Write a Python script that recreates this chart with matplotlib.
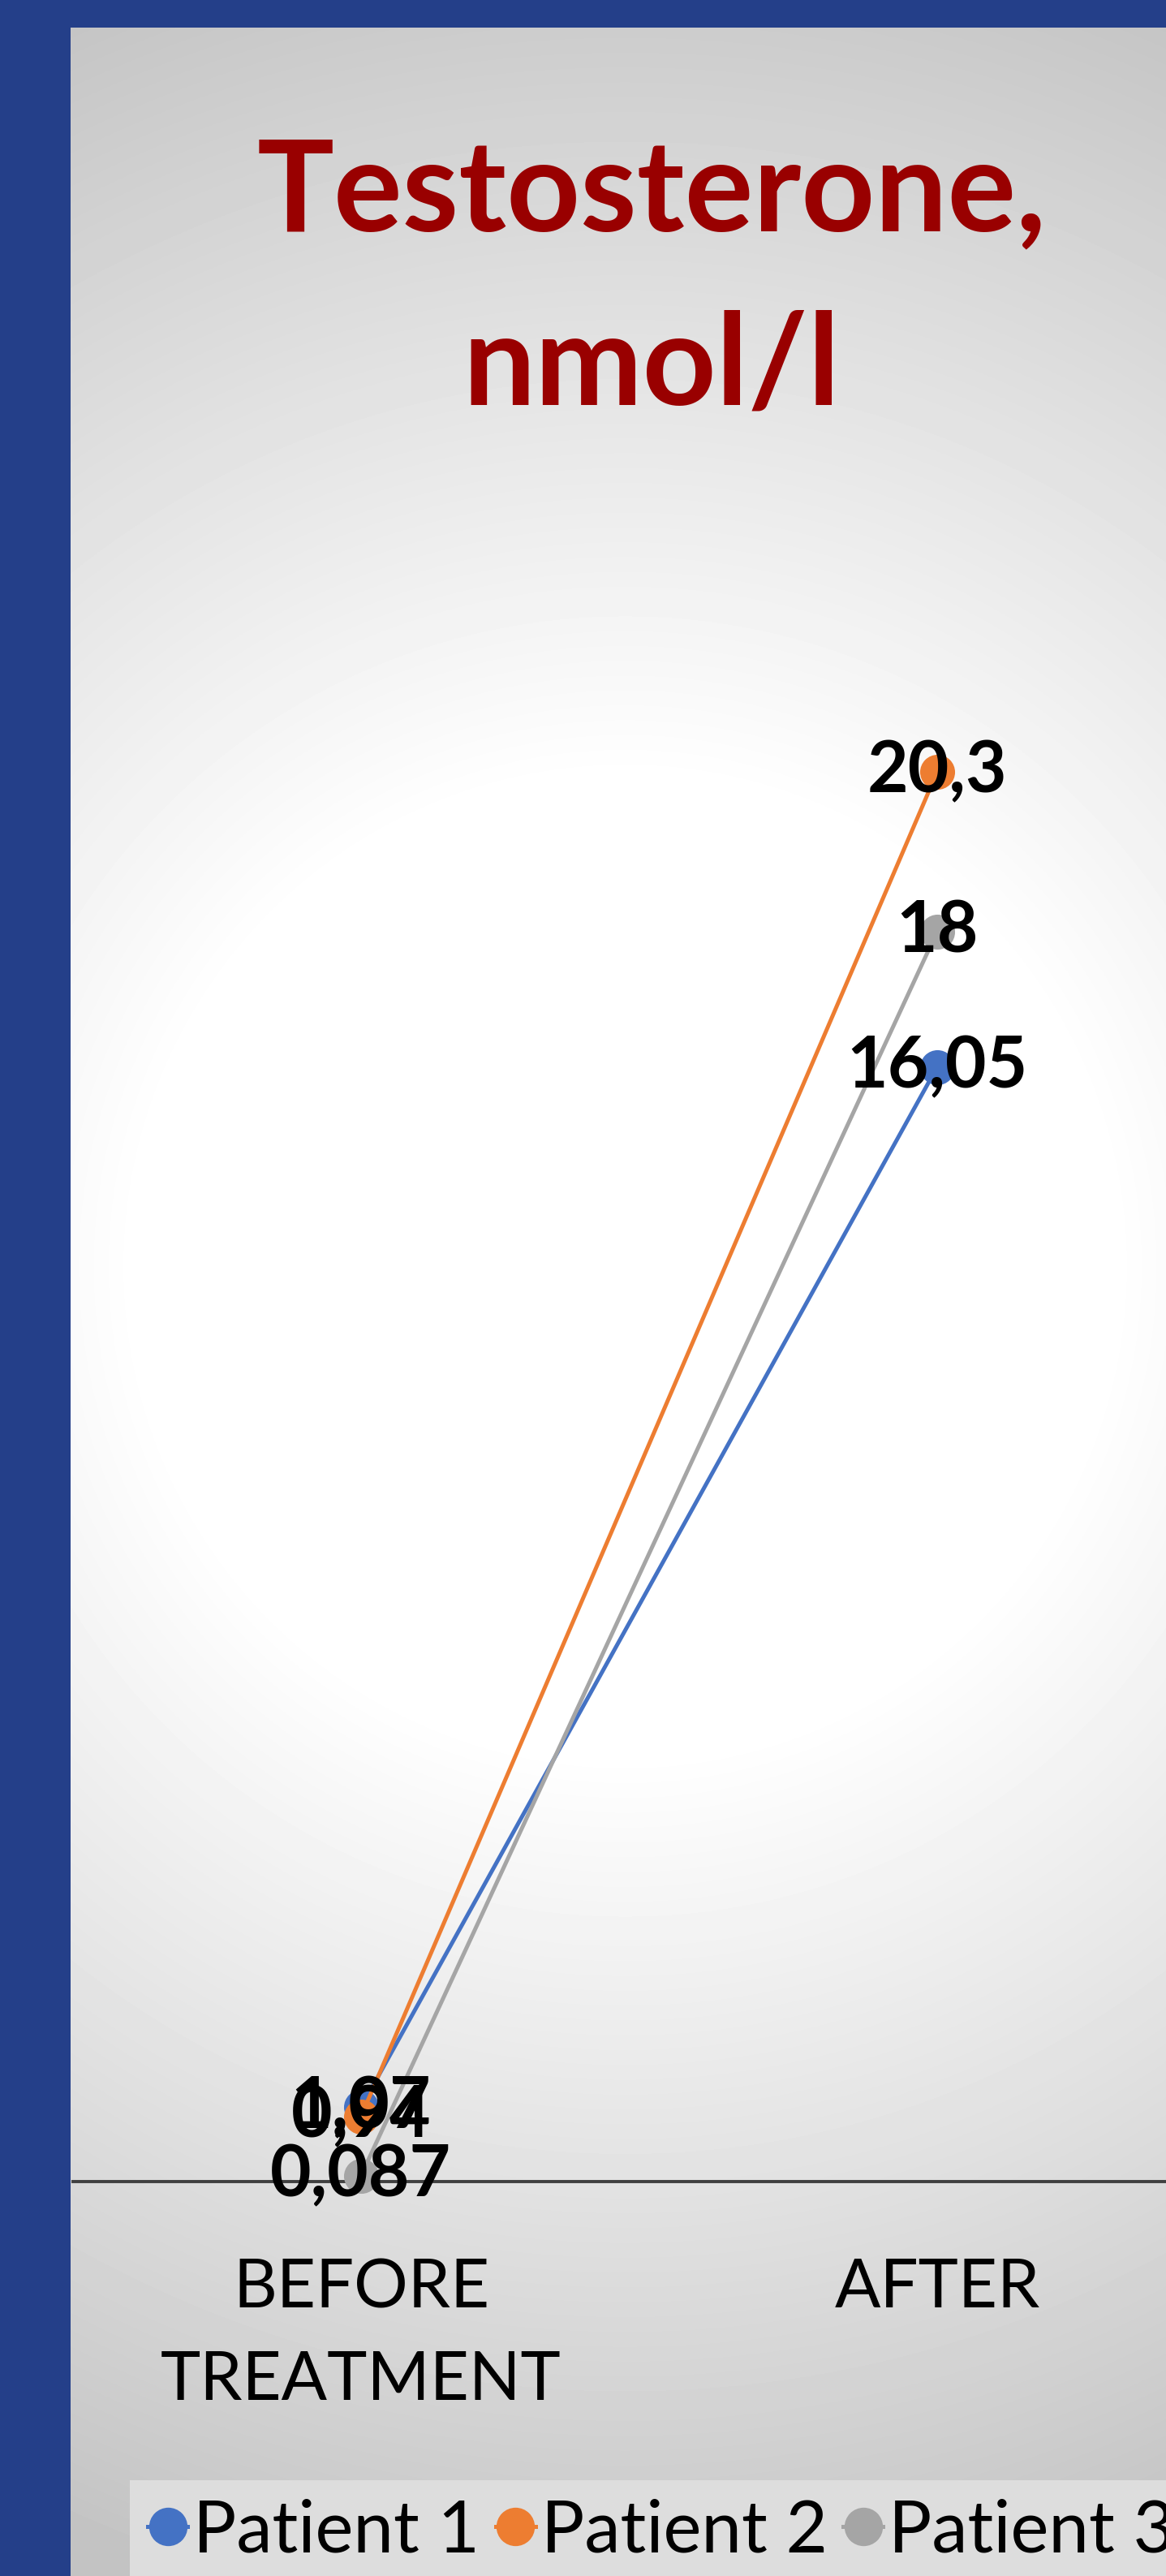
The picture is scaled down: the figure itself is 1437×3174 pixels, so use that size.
import numpy as np
import matplotlib
matplotlib.use('Agg')
import matplotlib.pyplot as plt

# chart data
categories = ['BEFORE\nTREATMENT', 'AFTER']
patient1 = [1.07, 16.05]
patient2 = [0.94, 20.3]
patient3 = [0.087, 18]
series_names = ['Patient 1', 'Patient 2', 'Patient 3']
series_colors = ['#4472C4', '#ED7D31', '#A5A5A5']

W, H = 1437, 3174
plt.rcParams['font.family'] = ['Lato', 'DejaVu Sans']

def fx(px):
    return px / W

def fy(py):
    return 1 - py / H

fig = plt.figure(figsize=(W / 100, H / 100), dpi=100, facecolor='#243F89')

# gray-to-white radial background of the slide panel
left_px, top_px = 87, 34
bg = fig.add_axes([fx(left_px), 0, fx(W - left_px), (H - top_px) / H], zorder=0)
xs = np.arange(left_px, W)
ys = np.arange(top_px, H)
XX, YY = np.meshgrid(xs, ys)
r = np.sqrt((XX - 770) ** 2 + (YY - 1560) ** 2)
shade = np.clip(255 - (r - 600) * 0.0545, 195, 255) / 255
bg.imshow(shade, cmap='gray', vmin=0, vmax=1, aspect='auto', interpolation='bilinear')
bg.axis('off')

# main chart axes (extends past the right edge, like the cropped original)
y0_px, ymax = 2688, 25
px_per_unit = (2688 - 951) / 20.3
ax_top_px = y0_px - ymax * px_per_unit
ax = fig.add_axes([fx(90), fy(y0_px), fx(1420), (y0_px - ax_top_px) / H], zorder=1)
ax.set_facecolor('none')
ax.set_xlim(-0.5, 1.5)
ax.set_ylim(0, ymax)

x = np.arange(len(categories))
all_series = [patient1, patient2, patient3]
for vals, name, col in zip(all_series, series_names, series_colors):
    ax.plot(x, vals, color=col, lw=3.6, marker='o', markersize=31,
            markeredgewidth=0, label=name, clip_on=False, zorder=3)

for vals in all_series:
    for xi, v in zip(x, vals):
        ax.text(xi, v, f'{v:g}'.replace('.', ','), ha='center', va='center',
                fontsize=63, fontweight='bold', color='black', zorder=5,
                clip_on=False)

for s in ['left', 'right', 'top']:
    ax.spines[s].set_visible(False)
ax.spines['bottom'].set_color('#404040')
ax.spines['bottom'].set_linewidth(2.8)
ax.set_yticks([])
ax.set_xticks(x, categories)
ax.tick_params(axis='x', length=0, pad=68, labelsize=60)
for lab in ax.get_xticklabels():
    lab.set_linespacing(1.62)
    lab.set_multialignment('center')

# title
fig.text(fx(803), fy(284), 'Testosterone,', ha='center', va='baseline',
         fontsize=114, fontweight='bold', color='#990000', zorder=6)
fig.text(fx(803), fy(499), 'nmol/l', ha='center', va='baseline',
         fontsize=114, fontweight='bold', color='#990000', zorder=6)

leg = fig.legend(loc='upper left', bbox_to_anchor=(fx(160), fy(3056)),
                 bbox_transform=fig.transFigure, ncol=3, fontsize=64,
                 frameon=True, fancybox=False, facecolor='#DDDDDD',
                 edgecolor='none', framealpha=1, borderaxespad=0,
                 borderpad=0.25, handlelength=0.55, handletextpad=0.08,
                 columnspacing=0.22, markerscale=1.1)
leg.set_zorder(7)

fig.savefig('out.png', dpi=100, facecolor=fig.get_facecolor())
